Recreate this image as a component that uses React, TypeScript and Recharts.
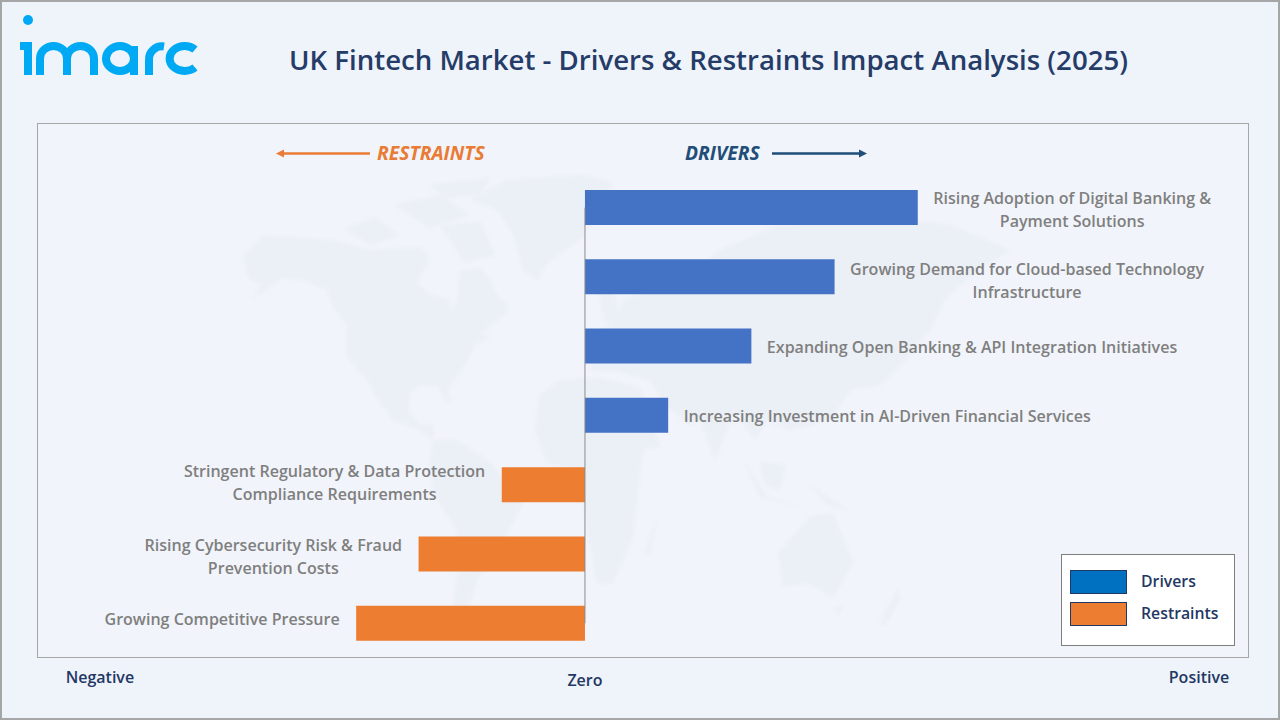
import { Bar, BarChart, LabelList, Legend, ReferenceLine, XAxis, YAxis } from "recharts";

const categories = [
  "Rising Adoption of Digital Banking &\nPayment Solutions",
  "Growing Demand for Cloud-based Technology\nInfrastructure",
  "Expanding Open Banking & API Integration Initiatives",
  "Increasing Investment in AI-Driven Financial Services",
  "Stringent Regulatory & Data Protection\nCompliance Requirements",
  "Rising Cybersecurity Risk & Fraud\nPrevention Costs",
  "Growing Competitive Pressure",
];
const driverValues = [4, 3, 2, 1, null, null, null];
const restraintValues = [null, null, null, null, -1, -2, -2.75];
const axisTicks = [-5.83, 0, 7.38];
const axisLabels = ["Negative", "Zero", "Positive"];

const chartData = categories.map((category, i) => ({
  category,
  drivers: driverValues[i],
  restraints: restraintValues[i],
}));

// the labels in the original are not evenly centred on their bars
const labelNudge = [2, 3, 2, 1, -2, 2, -4];

const NAVY = "#1F3864";
const LABEL_FONT = '600 16.05px "Open Sans"';

const measure = (() => {
  const ctx = document.createElement("canvas").getContext("2d")!;
  return (s: string) => {
    ctx.font = LABEL_FONT;
    return ctx.measureText(s).width;
  };
})();

function BarLabel(props: any) {
  const { x, y, width, height, value } = props;
  const lines = String(value).split("\n");
  const left = Math.min(x, x + width);
  const right = Math.max(x, x + width);
  const blockWidth = Math.max(...lines.map(measure));
  const positive = width > 0;
  const cx = positive ? right + 15.5 + blockWidth / 2 : left - 16.5 - blockWidth / 2;
  const cy = y + height / 2;
  // LabelList index skips the null rows, so look the row up by its name
  const nudge = labelNudge[categories.indexOf(String(value))];
  const startY = (lines.length > 1 ? cy - 9.5 : cy + 1) + nudge;
  return (
    <text textAnchor="middle" fill="#7F7F7F" style={{ font: LABEL_FONT }}>
      {lines.map((line, i) => (
        <tspan key={i} x={cx} y={startY + i * 23} dominantBaseline="middle">
          {line}
        </tspan>
      ))}
    </text>
  );
}

function EndTick(props: any) {
  const { x, y, index } = props;
  return (
    <text
      x={x}
      y={index === 1 ? y + 16 : y + 13}
      dominantBaseline="middle"
      textAnchor="middle"
      fill={NAVY}
      style={{ font: '600 16px "Open Sans"' }}
    >
      {axisLabels[index]}
    </text>
  );
}

function LegendBox() {
  const rows = [
    { name: "Drivers", color: "#0070C0" },
    { name: "Restraints", color: "#ED7D31" },
  ];
  return (
    <div
      style={{
        width: 174,
        height: 92,
        boxSizing: "border-box",
        background: "#fff",
        border: "1px solid #7F7F7F",
        paddingTop: 11,
        paddingLeft: 8,
      }}
    >
      {rows.map((r) => (
        <div key={r.name} style={{ display: "flex", alignItems: "center", height: 32 }}>
          <span
            style={{
              width: 57,
              height: 24,
              boxSizing: "border-box",
              background: r.color,
              border: "1px solid #1F3864",
              marginRight: 14,
            }}
          />
          <span style={{ font: '600 15.8px "Open Sans"', color: NAVY, marginTop: -2 }}>{r.name}</span>
        </div>
      ))}
    </div>
  );
}

function WorldMap() {
  const land = [
    "M243,257 L263,236 L300,238 L337,241 L370,250 L420,248 L430,258 L417,283 L430,295 L449,300 L452,312 L458,298 L460,272 L480,268 L490,280 L500,300 L508,305 L507,313 L490,325 L480,335 L490,336 L475,345 L465,365 L450,385 L448,395 L452,402 L445,400 L438,386 L420,385 L410,392 L408,410 L420,425 L433,425 L433,440 L420,430 L393,420 L375,395 L367,380 L347,357 L347,325 L333,307 L327,290 L303,280 L283,278 L263,292 L253,298 L262,285 L248,277 Z",
    "M470,200 L507,180 L583,175 L613,183 L583,237 L547,263 L538,280 L523,270 L513,233 L497,210 Z",
    "M345,228 L375,218 L400,235 L370,245 Z M395,205 L440,195 L470,215 L430,228 Z M430,185 L490,178 L480,195 L445,198 Z M440,225 L480,222 L495,255 L465,262 Z",
    "M433,440 L457,440 L490,462 L523,503 L497,553 L477,580 L463,627 L453,613 L457,570 L457,530 L433,493 L430,463 Z",
    "M540,395 L560,380 L600,378 L640,388 L660,447 L643,450 L638,490 L633,537 L613,583 L597,583 L580,487 L580,470 L547,463 L535,430 Z",
    "M590,370 L600,335 L625,300 L690,275 L720,250 L780,225 L860,215 L950,225 L1010,250 L985,265 L960,285 L945,300 L930,330 L905,360 L880,385 L850,390 L830,420 L790,430 L767,420 L755,440 L735,410 L715,460 L700,420 L690,425 L665,405 L650,380 L620,372 Z",
    "M598,290 L612,288 L620,315 L605,322 Z",
    "M745,463 L767,497 L800,507 L760,497 Z M760,462 L785,465 L780,490 L765,485 Z M810,485 L847,510 L825,503 Z",
    "M778,553 L810,517 L833,513 L853,563 L833,597 L807,583 L783,587 Z",
    "M657,517 L645,553 L650,555 Z M897,590 L880,623 L885,625 L900,600 Z M835,607 L842,607 L838,615 Z",
  ];
  return (
    <svg width={1280} height={720} style={{ position: "absolute", left: 0, top: 0, filter: "blur(1.5px)" }}>
      {land.map((d, i) => (
        <path key={i} d={d} fill="#EBEFF6" />
      ))}
    </svg>
  );
}

function Logo() {
  const strokeProps = { fill: "none", stroke: "#00A9F4", strokeWidth: 8 };
  return (
    <svg width={210} height={90} style={{ position: "absolute", left: 0, top: 0 }}>
      <circle cx={28} cy={20} r={5} fill="#00A9F4" />
      <path d="M20,46 H28 V75" {...strokeProps} />
      <path d="M40,75 V58.5 A13.5,12.5 0 0 1 67,58.5 V75 M67,58.5 A13.5,12.5 0 0 1 94,58.5 V75" {...strokeProps} />
      <ellipse cx={120} cy={58.5} rx={14} ry={12.5} {...strokeProps} />
      <path d="M134,46 V75" {...strokeProps} />
      <path d="M149,75 V60 A13,13 0 0 1 164,46.5" {...strokeProps} />
      <path d="M195,49.5 A15,12.5 0 1 0 195,67.5" {...strokeProps} />
    </svg>
  );
}

function DirectionArrow({ x1, x2, y, color }: { x1: number; x2: number; y: number; color: string }) {
  const dir = x2 > x1 ? 1 : -1;
  return (
    <g>
      <line x1={x1} x2={x2 - dir * 6} y1={y} y2={y} stroke={color} strokeWidth={2.5} />
      <path d={`M${x2},${y} L${x2 - dir * 8},${y - 4} L${x2 - dir * 8},${y + 4} Z`} fill={color} />
    </g>
  );
}

export default function App() {
  return (
    <div
      style={{
        position: "absolute",
        left: 0,
        top: 0,
        width: 1280,
        height: 720,
        boxSizing: "border-box",
        background: "#EFF3FA",
        border: "2px solid #A6A6A6",
        overflow: "hidden",
      }}
    >
      <div style={{ position: "absolute", left: -2, top: -2, width: 1280, height: 720 }}>
        <div
          style={{
            position: "absolute",
            left: 37,
            top: 123,
            width: 1212,
            height: 535,
            boxSizing: "border-box",
            border: "1px solid #A6A6A6",
            background: "#F1F4FA",
          }}
        />
        <WorldMap />
        <Logo />
        <div
          style={{
            position: "absolute",
            left: 200,
            width: 1017,
            top: 40,
            textAlign: "center",
            font: '600 27.6px "Open Sans"',
            color: "#253C68",
          }}
        >
          UK Fintech Market - Drivers &amp; Restraints Impact Analysis (2025)
        </div>
        <svg width={1280} height={720} style={{ position: "absolute", left: 0, top: 0 }}>
          <DirectionArrow x1={370} x2={276} y={153.5} color="#E97B34" />
          <DirectionArrow x1={772} x2={867} y={153.5} color="#1F4E79" />
          <text x={377} y={160} fill="#E97B34" style={{ font: 'italic 700 19.3px "Open Sans"' }}>
            RESTRAINTS
          </text>
          <text x={685} y={160} fill="#1F4E79" style={{ font: 'italic 700 19.3px "Open Sans"' }}>
            DRIVERS
          </text>
        </svg>
        <div style={{ position: "absolute", left: 0, top: 0 }}>
          <BarChart
            width={1280}
            height={720}
            data={chartData}
            layout="vertical"
            stackOffset="sign"
            barSize={35}
            margin={{ top: 173, right: 32, bottom: 0, left: 38 }}
          >
            <XAxis
              type="number"
              domain={[-6.574, 7.969]}
              ticks={axisTicks}
              tick={<EndTick />}
              axisLine={false}
              tickLine={false}
              height={62}
              interval={0}
            />
            <YAxis type="category" dataKey="category" hide />
            <ReferenceLine
              segment={[
                { x: 0, y: categories[0] },
                { x: 0, y: categories[6] },
              ]}
              stroke="#8C8C8C"
            />
            <Legend
              content={<LegendBox />}
              layout="horizontal"
              verticalAlign="middle"
              wrapperStyle={{ left: 1061, top: 554, width: 174, height: 92 }}
            />
            <Bar dataKey="drivers" name="Drivers" stackId="impact" fill="#4472C4" isAnimationActive={false}>
              <LabelList dataKey="category" content={<BarLabel />} />
            </Bar>
            <Bar dataKey="restraints" name="Restraints" stackId="impact" fill="#ED7D31" isAnimationActive={false}>
              <LabelList dataKey="category" content={<BarLabel />} />
            </Bar>
          </BarChart>
        </div>
      </div>
    </div>
  );
}
